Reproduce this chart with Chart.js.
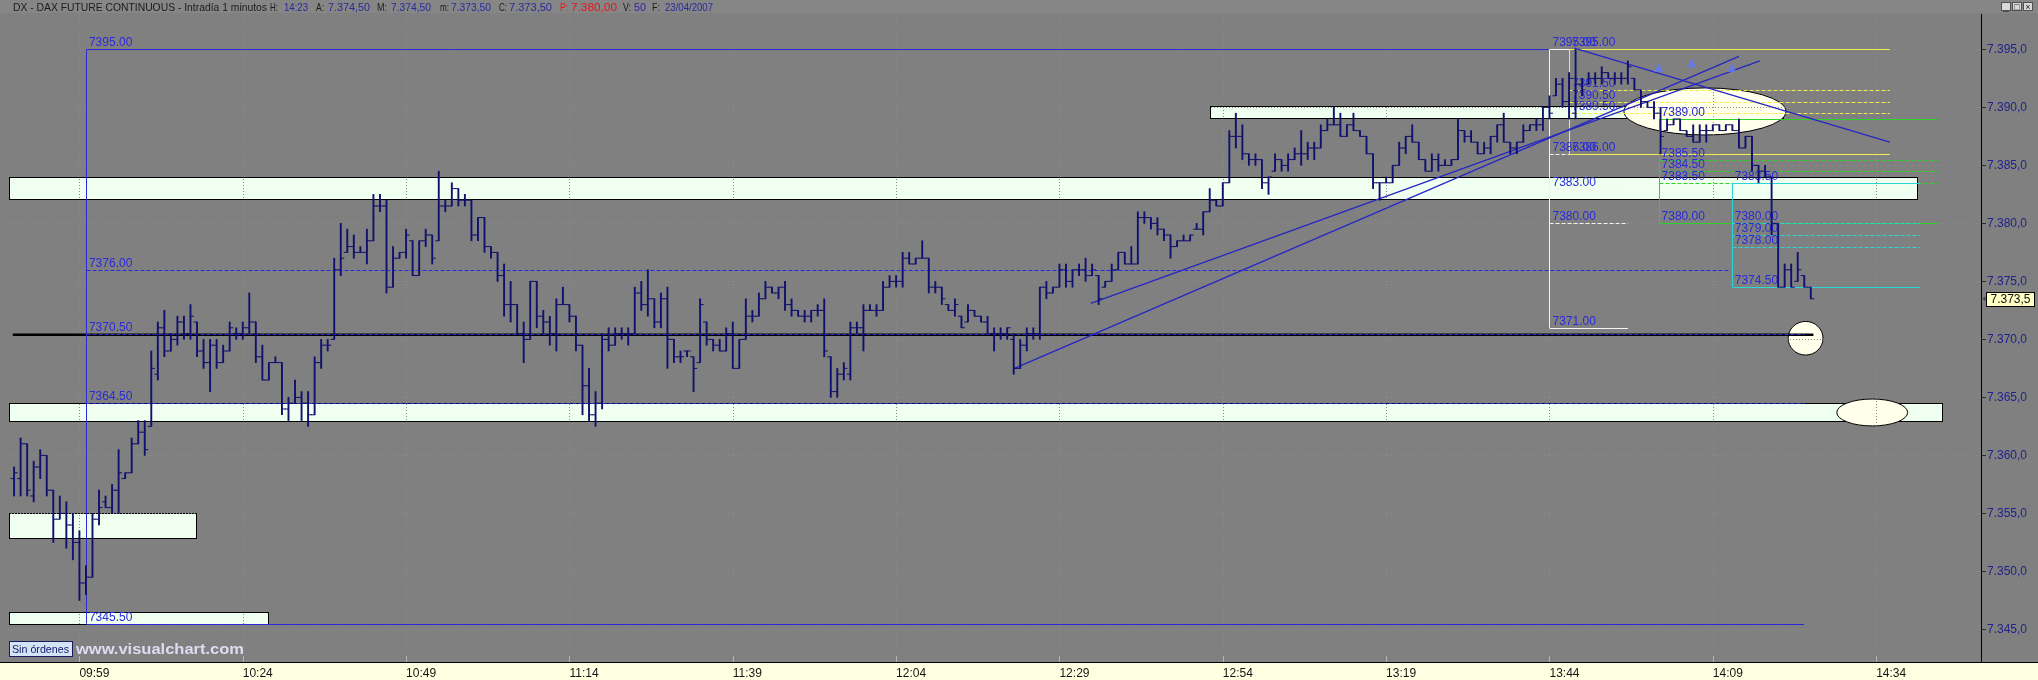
<!DOCTYPE html>
<html>
<head>
<meta charset="utf-8">
<script src="https://cdn.jsdelivr.net/npm/chart.js@4.4.0/dist/chart.umd.min.js"></script>
<style>
html, body { margin: 0; padding: 0; background: #808080; overflow: hidden; }
#wrap { width: 2038px; height: 680px; }
</style>
</head>
<body>
<div id="wrap"><canvas id="chart" width="2038" height="680"></canvas></div>
<script>
// one bar per minute, first bar 09:49
const firstBarMinute = 589;

const opens = [
  7358, 7358, 7361, 7356.5, 7359, 7360, 7357, 7354.5, 7355, 7354,
  7352.5, 7349, 7349.5, 7354.5, 7356, 7355.5, 7357, 7358, 7358.5, 7361,
  7362, 7362.5, 7367, 7371, 7369, 7370, 7371.5, 7370.5, 7371.5, 7369,
  7368, 7369.5, 7368, 7369, 7370.5, 7370.5, 7371, 7371.5, 7368.5, 7366.5,
  7368, 7368, 7364, 7364.5, 7365, 7364.5, 7363.5, 7368, 7369.5, 7370,
  7376, 7377.5, 7378, 7377.5, 7377.5, 7378.5, 7381.5, 7381.5, 7374.5, 7377,
  7377.5, 7378.5, 7375.5, 7378.5, 7379, 7378.5, 7381.5, 7381.5, 7383, 7382,
  7382, 7379, 7380.5, 7378, 7377.5, 7375.5, 7373, 7373, 7370.5, 7370,
  7375, 7372, 7371.5, 7370.5, 7373, 7373, 7372, 7369.5, 7366, 7363.5,
  7364.5, 7370, 7369.5, 7370.5, 7370.5, 7370.5, 7374, 7373, 7373.5, 7371.5,
  7373.5, 7370, 7368.5, 7369, 7368.5, 7368, 7371.5, 7370, 7369.5, 7369,
  7370.5, 7367.5, 7370, 7372, 7372, 7373.5, 7374.5, 7374, 7374.5, 7373,
  7372.5, 7372, 7372, 7372.5, 7372.5, 7368.5, 7365.5, 7367, 7367, 7371,
  7371, 7372.5, 7372.5, 7372.5, 7374.5, 7375, 7375, 7377, 7376.5, 7377,
  7377, 7374.5, 7374.5, 7373, 7372.5, 7372, 7371.5, 7372.5, 7372, 7371.5,
  7370.5, 7370.5, 7370.5, 7370, 7367.5, 7369.5, 7370.5, 7370.5, 7374.5, 7374,
  7374.5, 7376, 7375, 7376, 7376, 7375.5, 7375.5, 7374.5, 7375, 7376,
  7377.5, 7376.5, 7376.5, 7380.5, 7380.5, 7380, 7379.5, 7379, 7378, 7378.5,
  7378.5, 7379.5, 7379.5, 7381, 7382, 7381.5, 7383.5, 7387.5, 7387.5, 7386,
  7385.5, 7385.5, 7383.5, 7384.5, 7385.5, 7385, 7385.5, 7386, 7386, 7386.5,
  7386.5, 7388, 7388.5, 7388.5, 7387.5, 7388.5, 7388, 7387.5, 7386, 7383.5,
  7383.5, 7383.5, 7385, 7386.5, 7387.5, 7387, 7385.5, 7384.5, 7385.5, 7385,
  7385, 7385.5, 7388, 7387.5, 7387, 7386, 7386.5, 7387.5, 7388.5, 7387,
  7386.5, 7387, 7388, 7388.5, 7388.5, 7390, 7391, 7392, 7390.5, 7389.5,
  7392, 7392, 7392.5, 7392.5, 7393, 7392.5, 7392.5, 7392.5, 7392.5, 7391.5,
  7390.5, 7390, 7389.5, 7388, 7388.5, 7389, 7388, 7387.5, 7387, 7388,
  7388, 7388.5, 7388, 7388.5, 7388, 7386.5, 7387.5, 7385, 7384.5, 7384,
  7380, 7374.5, 7376, 7375, 7375.5, 7374.5
];
const highs = [
  7359, 7361.5, 7361, 7359.5, 7360.5, 7360, 7357, 7356.5, 7356, 7355,
  7353.5, 7350.5, 7355, 7357, 7356.5, 7357.5, 7360.5, 7358.5, 7361.5, 7363,
  7363, 7369, 7371.5, 7372.5, 7370.5, 7372, 7372, 7373, 7371.5, 7370,
  7370, 7370, 7369.5, 7371.5, 7371, 7371.5, 7374, 7371.5, 7369.5, 7368,
  7368.5, 7368, 7365, 7366.5, 7365.5, 7365.5, 7368.5, 7370, 7370, 7377,
  7380, 7379.5, 7379, 7378, 7379.5, 7382.5, 7382.5, 7382, 7378, 7377.5,
  7379.5, 7378.5, 7378.5, 7379.5, 7379, 7384.5, 7382, 7383.5, 7383, 7382.5,
  7382, 7380.5, 7380.5, 7378, 7377.5, 7376.5, 7375, 7373, 7371.5, 7375,
  7375, 7372.5, 7372, 7373.5, 7374.5, 7373, 7372, 7369.5, 7367.5, 7365.5,
  7370.5, 7371, 7371, 7371, 7371, 7374.5, 7375, 7376, 7373.5, 7374,
  7374.5, 7370, 7369, 7369, 7368.5, 7373.5, 7371.5, 7370, 7370, 7371,
  7371.5, 7370, 7373.5, 7372.5, 7374, 7375, 7374.5, 7374.5, 7375, 7373.5,
  7372.5, 7372.5, 7372.5, 7373, 7373.5, 7368.5, 7367.5, 7368, 7371.5, 7371.5,
  7373, 7373, 7373, 7375, 7375.5, 7375.5, 7377.5, 7377.5, 7377, 7378.5,
  7377, 7375, 7374.5, 7373, 7373.5, 7372, 7373, 7372.5, 7372, 7372,
  7371, 7371, 7371, 7370.5, 7370, 7371, 7371, 7374.5, 7375, 7374.5,
  7376.5, 7376.5, 7376, 7376.5, 7377, 7376.5, 7375.5, 7375, 7376.5, 7377.5,
  7377.5, 7378, 7381, 7381, 7380.5, 7380.5, 7379.5, 7379, 7378.5, 7379,
  7379, 7380, 7381, 7383, 7382, 7383.5, 7388, 7389.5, 7388.5, 7386,
  7386, 7385.5, 7384, 7386, 7385.5, 7386, 7386.5, 7388, 7387, 7387,
  7388.5, 7389, 7390, 7389.5, 7388.5, 7389.5, 7388, 7387.5, 7386, 7383.5,
  7384, 7385, 7387, 7387.5, 7388.5, 7387, 7385.5, 7386, 7386, 7385.5,
  7385.5, 7389, 7388, 7388, 7387, 7387, 7387.5, 7388.5, 7389.5, 7387,
  7387, 7388.5, 7388.5, 7389, 7390, 7391, 7392.5, 7392.5, 7393, 7395,
  7392.5, 7393, 7393, 7393.5, 7393, 7393, 7393, 7394, 7392.5, 7391.5,
  7390.5, 7390.5, 7390, 7389, 7389, 7389, 7388, 7388.5, 7388.5, 7388.5,
  7388.5, 7388.5, 7388.5, 7388.5, 7389, 7387.5, 7387.5, 7385, 7385, 7384,
  7380, 7376.5, 7376.5, 7377.5, 7375.5, 7374.5
];
const lows = [
  7356.5, 7356.5, 7356.5, 7356, 7358, 7356.5, 7352.5, 7354.5, 7352, 7351,
  7347.5, 7348, 7349.5, 7354, 7355.5, 7355, 7355, 7358, 7358.5, 7361,
  7360, 7362.5, 7366.5, 7368.5, 7369, 7369.5, 7370, 7370, 7368.5, 7367.5,
  7365.5, 7367.5, 7368, 7369, 7370, 7370, 7370.5, 7368, 7366.5, 7366.5,
  7368, 7363.5, 7363, 7364.5, 7363, 7362.5, 7363.5, 7367.5, 7369, 7370,
  7375.5, 7377.5, 7377, 7377.5, 7376.5, 7378.5, 7381, 7374, 7374.5, 7377,
  7377, 7375.5, 7375.5, 7378, 7376.5, 7378.5, 7381, 7381.5, 7381.5, 7381.5,
  7378.5, 7378.5, 7377.5, 7377, 7375, 7372, 7371.5, 7370.5, 7368, 7370,
  7371, 7370.5, 7369.5, 7369, 7373, 7371.5, 7369, 7363.5, 7363, 7362.5,
  7364, 7369, 7369.5, 7370, 7369.5, 7370.5, 7372.5, 7372, 7371, 7371,
  7367.5, 7368, 7368, 7368.5, 7365.5, 7368, 7369.5, 7369, 7369, 7369,
  7367.5, 7367.5, 7370, 7371.5, 7372, 7373.5, 7374, 7373.5, 7372.5, 7372,
  7372, 7371.5, 7371.5, 7372, 7368.5, 7365, 7365, 7366.5, 7366.5, 7370.5,
  7369, 7372.5, 7372, 7372.5, 7374.5, 7374.5, 7374.5, 7376.5, 7376.5, 7377,
  7374, 7374, 7373, 7372.5, 7372, 7371, 7371.5, 7372, 7371.5, 7370.5,
  7369, 7370, 7370, 7367, 7367.5, 7369, 7370, 7370, 7373.5, 7374,
  7374.5, 7374.5, 7374.5, 7375.5, 7375, 7375.5, 7373, 7374.5, 7375, 7376,
  7376.5, 7376.5, 7376.5, 7380, 7379.5, 7379, 7378.5, 7377, 7378, 7378.5,
  7378.5, 7379.5, 7379, 7381, 7381.5, 7381.5, 7383.5, 7386.5, 7385.5, 7385,
  7385, 7383, 7382.5, 7384.5, 7384.5, 7384.5, 7385.5, 7385, 7385.5, 7385.5,
  7386.5, 7388, 7388.5, 7387.5, 7387.5, 7388, 7387.5, 7386, 7383, 7382,
  7383.5, 7383.5, 7385, 7386, 7387, 7385.5, 7384.5, 7384.5, 7384.5, 7385,
  7385, 7385.5, 7387, 7387, 7386, 7386, 7386, 7387, 7387, 7386,
  7386, 7387, 7388, 7388, 7388, 7389, 7391, 7390, 7389, 7389,
  7391, 7392, 7392, 7392, 7392.5, 7392, 7392, 7392, 7391.5, 7390,
  7390, 7389, 7386, 7388, 7388.5, 7388, 7387.5, 7387, 7387, 7387,
  7388, 7388, 7388, 7388, 7386.5, 7386.5, 7384.5, 7383.5, 7384, 7379,
  7374.5, 7374.5, 7374.5, 7375, 7374.5, 7373.5
];
const closes = [
  7358.5, 7361, 7357, 7359, 7360, 7357, 7354.5, 7355, 7354, 7352.5,
  7349, 7349.5, 7354.5, 7355.5, 7355.5, 7357, 7358.5, 7358.5, 7361, 7362,
  7360.5, 7367.5, 7371, 7369, 7370, 7371.5, 7370.5, 7372, 7369, 7368,
  7369.5, 7368, 7369, 7371, 7370.5, 7371, 7371.5, 7368.5, 7366.5, 7368,
  7368, 7364, 7364.5, 7365, 7364.5, 7363.5, 7368, 7369.5, 7369.5, 7376,
  7377, 7378, 7377.5, 7377.5, 7378.5, 7381.5, 7381.5, 7374.5, 7377, 7377.5,
  7379, 7375.5, 7378.5, 7379, 7377, 7381.5, 7381.5, 7383, 7382, 7382,
  7379, 7380.5, 7378, 7377.5, 7375.5, 7373, 7373, 7370.5, 7370, 7375,
  7372, 7371.5, 7370.5, 7373, 7373, 7372, 7369.5, 7366, 7363.5, 7364.5,
  7370, 7369.5, 7370.5, 7370.5, 7370.5, 7374, 7373, 7373.5, 7371.5, 7373.5,
  7370, 7368.5, 7368.5, 7369, 7367.5, 7373, 7370, 7369.5, 7369, 7370.5,
  7367.5, 7370, 7372, 7372, 7373.5, 7374.5, 7374, 7374.5, 7373, 7372.5,
  7372, 7372, 7372.5, 7372.5, 7369, 7365.5, 7367, 7367.5, 7371, 7371,
  7372.5, 7372.5, 7372.5, 7374.5, 7375, 7375, 7377, 7376.5, 7377, 7377,
  7374.5, 7374.5, 7373.5, 7372.5, 7373, 7371, 7372.5, 7372, 7371.5, 7370.5,
  7370.5, 7370.5, 7371, 7367.5, 7369.5, 7370.5, 7370.5, 7374.5, 7374, 7374.5,
  7376, 7375, 7376, 7376, 7375.5, 7376, 7373.5, 7375, 7376, 7377.5,
  7376.5, 7376.5, 7380.5, 7380.5, 7380, 7379.5, 7379, 7378, 7378.5, 7378.5,
  7379, 7379.5, 7381, 7382, 7381.5, 7383.5, 7387.5, 7387.5, 7386, 7385.5,
  7385.5, 7383.5, 7384, 7385.5, 7385, 7385.5, 7386, 7386, 7386.5, 7386.5,
  7388, 7388.5, 7388.5, 7387.5, 7388.5, 7388, 7387.5, 7386, 7383.5, 7383.5,
  7383.5, 7385, 7386.5, 7387.5, 7387, 7385.5, 7384.5, 7385.5, 7385, 7385,
  7385.5, 7388, 7387.5, 7387, 7386, 7386.5, 7387.5, 7388.5, 7387, 7386.5,
  7387, 7388, 7388.5, 7388.5, 7390, 7389.5, 7392, 7390.5, 7392.5, 7392,
  7391.5, 7392.5, 7392.5, 7393, 7392.5, 7392.5, 7392.5, 7393.5, 7391.5, 7390.5,
  7390, 7389.5, 7387.5, 7388.5, 7389, 7388, 7387.5, 7387, 7388, 7388,
  7388.5, 7388, 7388.5, 7388, 7386.5, 7387.5, 7385, 7384.5, 7384, 7380,
  7374.5, 7376, 7374.5, 7376, 7374.5, 7373.5
];

const tickMinutes = [599, 624, 649, 674, 699, 724, 749, 774, 799, 824, 849, 874];
const tickLabels = ['09:59', '10:24', '10:49', '11:14', '11:39', '12:04', '12:29', '12:54', '13:19', '13:44', '14:09', '14:34'];
const priceTicks = [7345, 7350, 7355, 7360, 7365, 7370, 7375, 7380, 7385, 7390, 7395];
const lastPrice = 7373.5;

// drawing objects, in minutes / price
const zones = [
  [588.2, 880.3, 7382.1, 7384.0],
  [588.2, 884.1, 7363.0, 7364.5],
  [772.0, 859.8, 7389.05, 7390.1],
  [588.2, 616.9, 7352.9, 7355.0],
  [588.2, 627.9, 7345.5, 7346.5]
];
const ellipses = [
  [847.8, 7389.65, 12.4, 2.03],
  [863.2, 7370.1, 2.67, 1.45],
  [873.4, 7363.7, 5.42, 1.16]
];
const fibBlue = [7395, 7376, 7370.5, 7364.5, 7345.5];
const fibBlueEnds = [824, 851.5, 863, 863, 863];
const fibWhite = [7395, 7386, 7383, 7380, 7371];
const fibYellow = [7395, 7391.5, 7390.5, 7389.5, 7386];
const fibGreen = [7389, 7385.5, 7384.5, 7383.5, 7380];
const fibCyan = [7383.5, 7380, 7379, 7378, 7374.5];
const trendLines = [
  [742.1, 7367.5, 853.0, 7394.4],
  [753.8, 7373.1, 856.2, 7394.0],
  [827.8, 7395.1, 876.1, 7387.0]
];
const pivotLine = [588.8, 864.4, 7370.4];
const arrowMarks = [[840.7, 7393.4], [845.8, 7393.8], [851.9, 7393.4]];

const barColor = '#10106e';
const fontName = '"Liberation Sans", Arial, sans-serif';

const ranges = highs.map((h, i) => ({ x: firstBarMinute + i, y: [lows[i], h] }));
const openTicks = opens.map((o, i) => ({ x: firstBarMinute + i - 0.27, y: o }));
const closeTicks = closes.map((c, i) => ({ x: firstBarMinute + i + 0.27, y: c }));

function formatAxisPrice(v) {
  const s = v.toFixed(1).replace('.', ',');
  return s.slice(0, 1) + '.' + s.slice(1);
}

function fitText(c, text, x, y, w) {
  const m = c.measureText(text).width;
  c.save();
  c.translate(x, y);
  c.scale(w / m, 1);
  c.fillText(text, 0, 0);
  c.restore();
}

const overlay = {
  id: 'overlay',
  beforeDraw(chart) {
    const c = chart.ctx;
    const area = chart.chartArea;
    c.save();
    c.fillStyle = '#808080';
    c.fillRect(0, 0, chart.width, chart.height);
    c.fillStyle = '#ffffe1';
    c.fillRect(0, area.bottom, chart.width, chart.height - area.bottom);

    // title strip
    c.fillStyle = '#868686';
    c.fillRect(0, 0, chart.width, 13);
    c.font = '11px ' + fontName;
    c.textBaseline = 'alphabetic';
    const dark = '#1c1c1c', navy = '#2a2a9c', red = '#e01818';
    const hdr = [
      ['DX - DAX FUTURE CONTINUOUS - Intradía 1 minutos', 13, 254, dark],
      ['H:', 270, 8, dark], ['14:23', 284, 24, navy],
      ['A:', 316, 8, dark], ['7.374,50', 328, 42, navy],
      ['M:', 377, 10, dark], ['7.374,50', 391, 40, navy],
      ['m:', 440, 9, dark], ['7.373,50', 451, 40, navy],
      ['C:', 499, 8, dark], ['7.373,50', 509, 43, navy],
      ['P:', 560, 8, red], ['7.380,00', 571, 46, red],
      ['V:', 623, 8, dark], ['50', 634, 12, navy],
      ['F:', 652, 8, dark], ['23/04/2007', 665, 48, navy]
    ];
    for (const [t, x, w, col] of hdr) {
      c.fillStyle = col;
      fitText(c, t, x, 11, w);
    }
    // window buttons
    const glyphs = ['_', '□', '×'];
    for (let i = 0; i < 3; i++) {
      const bx = 2001 + i * 11;
      c.fillStyle = '#d8d8d8';
      c.fillRect(bx, 2, 10, 9);
      c.strokeStyle = '#505050';
      c.lineWidth = 1;
      c.strokeRect(bx + 0.5, 2.5, 9, 8);
      c.fillStyle = '#202020';
      c.font = '9px ' + fontName;
      c.textAlign = 'center';
      c.fillText(glyphs[i], bx + 5, 10);
      c.textAlign = 'left';
    }
    c.restore();
  },
  beforeDatasetsDraw(chart) {
    const c = chart.ctx;
    const xs = chart.scales.x, ys = chart.scales.y;
    const area = chart.chartArea;
    const px = (m) => xs.getPixelForValue(m);
    const py = (p) => ys.getPixelForValue(p);
    c.save();
    c.beginPath();
    c.rect(area.left, area.top, area.right - area.left, area.bottom - area.top);
    c.clip();

    // zones
    for (const [m0, m1, lo, hi] of zones) {
      const x0 = Math.round(px(m0)) + 0.5, x1 = Math.round(px(m1)) + 0.5;
      const y0 = Math.round(py(hi)) + 0.5, y1 = Math.round(py(lo)) + 0.5;
      c.fillStyle = '#effff0';
      c.fillRect(x0, y0, x1 - x0, y1 - y0);
      c.strokeStyle = '#000';
      c.lineWidth = 1;
      c.strokeRect(x0, y0, x1 - x0, y1 - y0);
    }
    // ellipses
    for (const [m, p, rm, rp] of ellipses) {
      const cx = px(m), cy = py(p);
      const rx = Math.abs(px(m + rm) - cx), ry = Math.abs(py(p + rp) - cy);
      c.beginPath();
      c.ellipse(cx, cy, rx, ry, 0, 0, Math.PI * 2);
      c.fillStyle = '#ffffec';
      c.fill();
      c.strokeStyle = '#000';
      c.lineWidth = 1;
      c.stroke();
    }
    // dotted grid (same gray as the background, shows on the light shapes)
    c.strokeStyle = '#8a8a8a';
    c.lineWidth = 1;
    c.setLineDash([1, 2]);
    for (const m of tickMinutes) {
      const x = Math.round(px(m)) + 0.5;
      c.beginPath(); c.moveTo(x, area.top); c.lineTo(x, area.bottom); c.stroke();
    }
    for (const p of priceTicks) {
      const y = Math.round(py(p)) + 0.5;
      c.beginPath(); c.moveTo(area.left, y); c.lineTo(area.right, y); c.stroke();
    }
    c.setLineDash([]);

    // thick black line
    c.strokeStyle = '#000';
    c.lineWidth = 2.4;
    c.beginPath();
    c.moveTo(px(pivotLine[0]), py(pivotLine[2]));
    c.lineTo(px(pivotLine[1]), py(pivotLine[2]));
    c.stroke();

    // retracement tools
    const drawFib = (levels, m0, m1, color, ends) => {
      c.strokeStyle = color;
      c.lineWidth = 1;
      const x0 = Math.round(px(m0)) + 0.5;
      c.beginPath();
      c.moveTo(x0, py(levels[0]));
      c.lineTo(x0, py(levels[levels.length - 1]));
      c.stroke();
      levels.forEach((lv, i) => {
        const solid = i === 0 || i === levels.length - 1;
        c.setLineDash(solid ? [] : [4, 2]);
        const y = Math.round(py(lv)) + 0.5;
        c.beginPath();
        c.moveTo(x0, y);
        c.lineTo(px(ends ? ends[i] : m1), y);
        c.stroke();
      });
      c.setLineDash([]);
    };
    drawFib(fibBlue, 600, 863, '#2a2ad6', fibBlueEnds);
    drawFib(fibWhite, 824, 836, '#f4f4f4');
    drawFib(fibYellow, 827, 876.1, '#eeee4c');
    drawFib(fibGreen, 840.7, 883.3, '#2ad22a');
    drawFib(fibCyan, 851.9, 880.7, '#2ad6d6');

    // trend lines
    c.strokeStyle = '#2626c4';
    c.lineWidth = 1.3;
    for (const [m0, p0, m1, p1] of trendLines) {
      c.beginPath();
      c.moveTo(px(m0), py(p0));
      c.lineTo(px(m1), py(p1));
      c.stroke();
    }
    // small arrows
    c.fillStyle = 'rgba(96,120,238,0.85)';
    for (const [m, p] of arrowMarks) {
      const x = px(m), y = py(p);
      c.beginPath();
      c.moveTo(x, y - 5);
      c.lineTo(x + 4.5, y + 4);
      c.lineTo(x - 4.5, y + 4);
      c.closePath();
      c.fill();
    }

    // level labels
    c.font = '12px ' + fontName;
    c.fillStyle = '#2a2ad8';
    c.textBaseline = 'alphabetic';
    const labelFib = (levels, m0) => {
      const x = px(m0) + 3;
      for (const lv of levels) c.fillText(lv.toFixed(2), x, py(lv) - 3);
    };
    labelFib(fibBlue, 600);
    labelFib(fibWhite, 824);
    labelFib(fibYellow, 827);
    labelFib(fibGreen, 840.7);
    labelFib(fibCyan, 851.9);
    c.restore();
  },
  afterDraw(chart) {
    const c = chart.ctx;
    const xs = chart.scales.x, ys = chart.scales.y;
    const area = chart.chartArea;
    c.save();
    // axis base line across the full width
    c.strokeStyle = '#000';
    c.lineWidth = 1;
    c.beginPath();
    c.moveTo(0, area.bottom + 0.5);
    c.lineTo(chart.width, area.bottom + 0.5);
    c.stroke();
    // small time marks inside the plot
    c.strokeStyle = '#b4b4b4';
    for (const m of tickMinutes) {
      const x = Math.round(xs.getPixelForValue(m)) + 0.5;
      c.beginPath(); c.moveTo(x, area.bottom - 6); c.lineTo(x, area.bottom); c.stroke();
    }
    // last price box
    const yp = ys.getPixelForValue(lastPrice);
    c.fillStyle = '#ffffc4';
    c.fillRect(area.right + 5.5, Math.round(yp - 7) + 0.5, 48, 14);
    c.strokeStyle = '#000';
    c.strokeRect(area.right + 5.5, Math.round(yp - 7) + 0.5, 48, 14);
    c.fillStyle = '#101010';
    c.font = '12px ' + fontName;
    c.textBaseline = 'middle';
    c.textAlign = 'center';
    c.fillText(formatAxisPrice(lastPrice), area.right + 29.5, yp + 1);
    c.fillStyle = '#404040';
    c.beginPath();
    c.moveTo(area.right + 1.5, yp);
    c.lineTo(area.right + 4.5, yp - 2.5);
    c.lineTo(area.right + 4.5, yp + 2.5);
    c.closePath();
    c.fill();

    // order button and site name
    c.fillStyle = '#d3e4f6';
    c.fillRect(9.5, 641.5, 63, 15);
    c.strokeStyle = '#1a1a60';
    c.strokeRect(9.5, 641.5, 63, 15);
    c.fillStyle = '#16166a';
    c.textAlign = 'left';
    c.textBaseline = 'alphabetic';
    c.font = '11px ' + fontName;
    fitText(c, 'Sin órdenes', 12, 653, 57);
    c.font = 'bold 15px ' + fontName;
    c.fillStyle = '#dcdcf2';
    fitText(c, 'www.visualchart.com', 76, 654, 168);
    c.restore();
  }
};

new Chart(document.getElementById('chart'), {
  type: 'bar',
  data: {
    datasets: [
      { type: 'bar', data: ranges, backgroundColor: barColor, borderWidth: 0, barThickness: 1.25, order: 3 },
      { type: 'scatter', data: openTicks, pointStyle: 'line', radius: 1.8, borderColor: barColor, borderWidth: 1, order: 2 },
      { type: 'scatter', data: closeTicks, pointStyle: 'line', radius: 1.8, borderColor: barColor, borderWidth: 1, order: 1 }
    ]
  },
  options: {
    responsive: false,
    animation: false,
    devicePixelRatio: 1,
    events: [],
    layout: { padding: { top: 14, left: 0, right: 0, bottom: 0 } },
    plugins: { legend: { display: false }, tooltip: { enabled: false } },
    scales: {
      x: {
        type: 'linear',
        min: 587.61,
        max: 890.05,
        offset: false,
        afterFit: (s) => { s.height = 18; },
        afterBuildTicks: (s) => { s.ticks = tickMinutes.map((v) => ({ value: v })); },
        grid: { display: false, drawTicks: false },
        border: { display: true, color: '#000' },
        ticks: {
          align: 'start',
          autoSkip: false,
          maxRotation: 0,
          minRotation: 0,
          padding: 4,
          color: '#141414',
          font: { family: fontName, size: 12 },
          callback: (v, i) => tickLabels[i]
        }
      },
      y: {
        type: 'linear',
        position: 'right',
        min: 7342.19,
        max: 7398.05,
        afterFit: (s) => { s.width = 57; },
        afterBuildTicks: (s) => { s.ticks = priceTicks.map((v) => ({ value: v })); },
        grid: { drawOnChartArea: false, drawTicks: true, tickLength: 5, tickColor: '#303030' },
        border: { display: true, color: '#000' },
        ticks: {
          padding: 1,
          color: '#22228a',
          font: { family: fontName, size: 12 },
          callback: (v) => formatAxisPrice(v)
        }
      }
    }
  },
  plugins: [overlay]
});
</script>
</body>
</html>
